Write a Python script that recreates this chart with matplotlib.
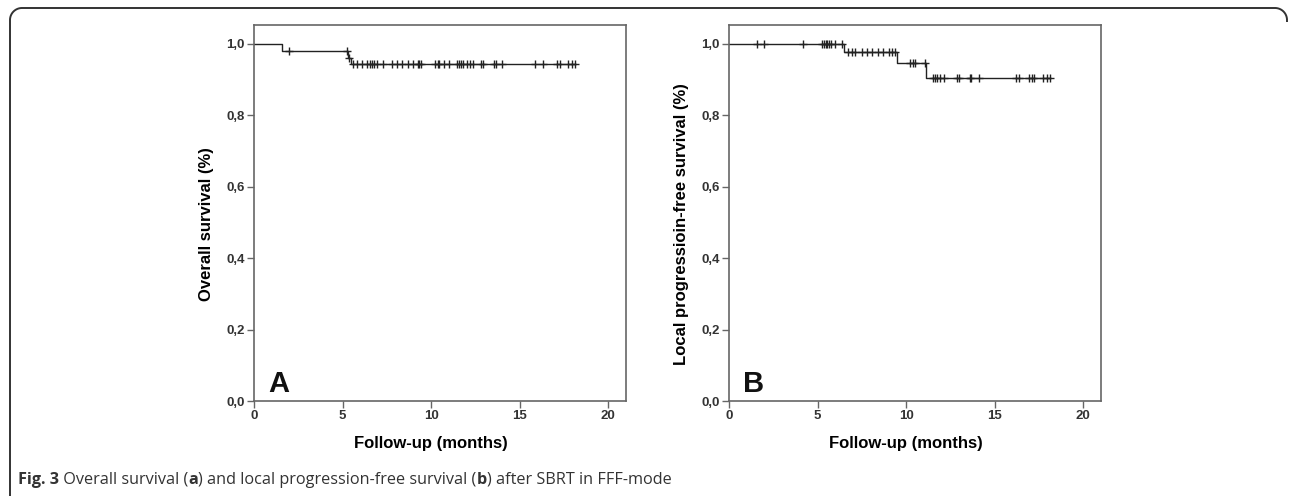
import numpy as np
import matplotlib
matplotlib.use('Agg')
import matplotlib.pyplot as plt
from matplotlib.ticker import FuncFormatter

# ── Data ──────────────────────────────────────────────────────────────────────
# Panel A: overall survival
os_event_t = [0.0, 1.6, 5.3, 5.45]
os_surv    = [1.0, 0.979, 0.961, 0.944]
os_censor  = [1.98, 5.25, 5.38, 5.61, 5.80, 6.08, 6.37, 6.55, 6.67, 6.78, 6.93,
              7.31, 7.78, 8.06, 8.34, 8.72, 8.96, 9.25, 9.34, 9.45, 10.2, 10.36,
              10.47, 10.73, 11.03, 11.45, 11.6, 11.68, 11.79, 12.02, 12.2, 12.39,
              12.8, 12.93, 13.55, 13.68, 14.0, 15.88, 16.3, 17.08, 17.27, 17.72,
              17.93, 18.12]

# Panel B: local progression-free survival
lpfs_event_t = [0.0, 6.5, 9.49, 11.13]
lpfs_surv    = [1.0, 0.977, 0.945, 0.905]
lpfs_censor  = [1.56, 1.99, 4.16, 5.27, 5.36, 5.46, 5.55, 5.65, 5.76, 5.99, 6.37,
                6.74, 6.93, 7.12, 7.49, 7.77, 8.06, 8.40, 8.72, 9.04, 9.19, 9.38,
                10.23, 10.38, 10.51, 11.07, 11.49, 11.62, 11.75, 11.9, 12.15,
                12.86, 12.96, 13.58, 13.67, 14.09, 16.21, 16.35, 16.91, 17.1,
                17.23, 17.72, 17.95, 18.14]

x_ticks = [0, 5, 10, 15, 20]
y_ticks = [0.0, 0.2, 0.4, 0.6, 0.8, 1.0]

panels = [
    ('A', 'Overall survival (%)', os_event_t, os_surv, os_censor, 254),
    ('B', 'Local progressioin-free survival (%)', lpfs_event_t, lpfs_surv, lpfs_censor, 729),
]

caption_parts = [('Fig. 3', 'bold'), (' Overall survival (', 'normal'), ('a', 'bold'),
                 (') and local progression-free survival (', 'normal'), ('b', 'bold'),
                 (') after SBRT in FFF-mode', 'normal')]

# ── Figure ────────────────────────────────────────────────────────────────────
W, H = 1290, 496
fig = plt.figure(figsize=(W / 100, H / 100), dpi=100)
plt.rcParams['font.family'] = ['Liberation Sans', 'DejaVu Sans']

# rounded frame in pixel coordinates (left + top edges, both top corners)
bg = fig.add_axes([0, 0, 1, 1])
bg.set_xlim(0, W)
bg.set_ylim(H, 0)
bg.axis('off')
r = 12
left, top, right = 10, 8, 1287
a = np.linspace(0, np.pi / 2, 30)
fx = np.concatenate([[left, left], left + r - r * np.cos(a),
                     right - r + r * np.sin(a), [right]])
fy = np.concatenate([[H + 5, top + r], top + r - r * np.sin(a),
                     top + r - r * np.cos(a), [top + r + 2]])
bg.plot(fx, fy, color='#333333', lw=1.4, solid_capstyle='butt')

spine_col = '#666666'
for letter, ylabel, ev_t, surv, cens, left_px in panels:
    ax = fig.add_axes([left_px / W, (H - 401) / H, 372 / W, 376 / H])

    t_end = max(cens)
    ax.step(list(ev_t) + [t_end], list(surv) + [surv[-1]], where='post',
            color='#222222', lw=1.0)
    idx = np.searchsorted(ev_t, cens, side='right') - 1
    ax.plot(cens, np.array(surv)[idx], linestyle='none', marker='+',
            markersize=6, mew=1.0, color='#222222')

    ax.set_xlim(0, 21.0)
    ax.set_ylim(0, 1.052)
    ax.set_xticks(x_ticks)
    ax.set_yticks(y_ticks)
    ax.yaxis.set_major_formatter(FuncFormatter(lambda v, p: f'{v:.1f}'.replace('.', ',')))
    ax.tick_params(direction='out', length=5, width=1.0, color=spine_col,
                   labelsize=9.5, pad=1.5)
    for lab in ax.get_xticklabels() + ax.get_yticklabels():
        lab.set_fontweight('bold')
        lab.set_color('#333333')
    for s in ax.spines.values():
        s.set_color(spine_col)
        s.set_linewidth(1.2)

    ax.set_xlabel('Follow-up (months)', fontsize=12, fontweight='bold')
    ax.set_ylabel(ylabel, fontsize=12, fontweight='bold')
    ax.xaxis.set_label_coords(0.476, -0.092)
    ax.yaxis.set_label_coords(-0.108, 0.47)

    ax.text(0.79, 0.025, letter, fontsize=21, fontweight='bold', color='#111111')

# ── Caption with mixed weights ────────────────────────────────────────────────
renderer = fig.canvas.get_renderer()
x = 18 / W
for txt, weight in caption_parts:
    t = fig.text(x, 1 - 484 / H, txt, fontsize=11.7, fontweight=weight,
                 family=['Open Sans', 'DejaVu Sans'], color='#333333', va='baseline')
    bb = t.get_window_extent(renderer=renderer)
    x += bb.width / W

fig.savefig('out.png', dpi=100)
